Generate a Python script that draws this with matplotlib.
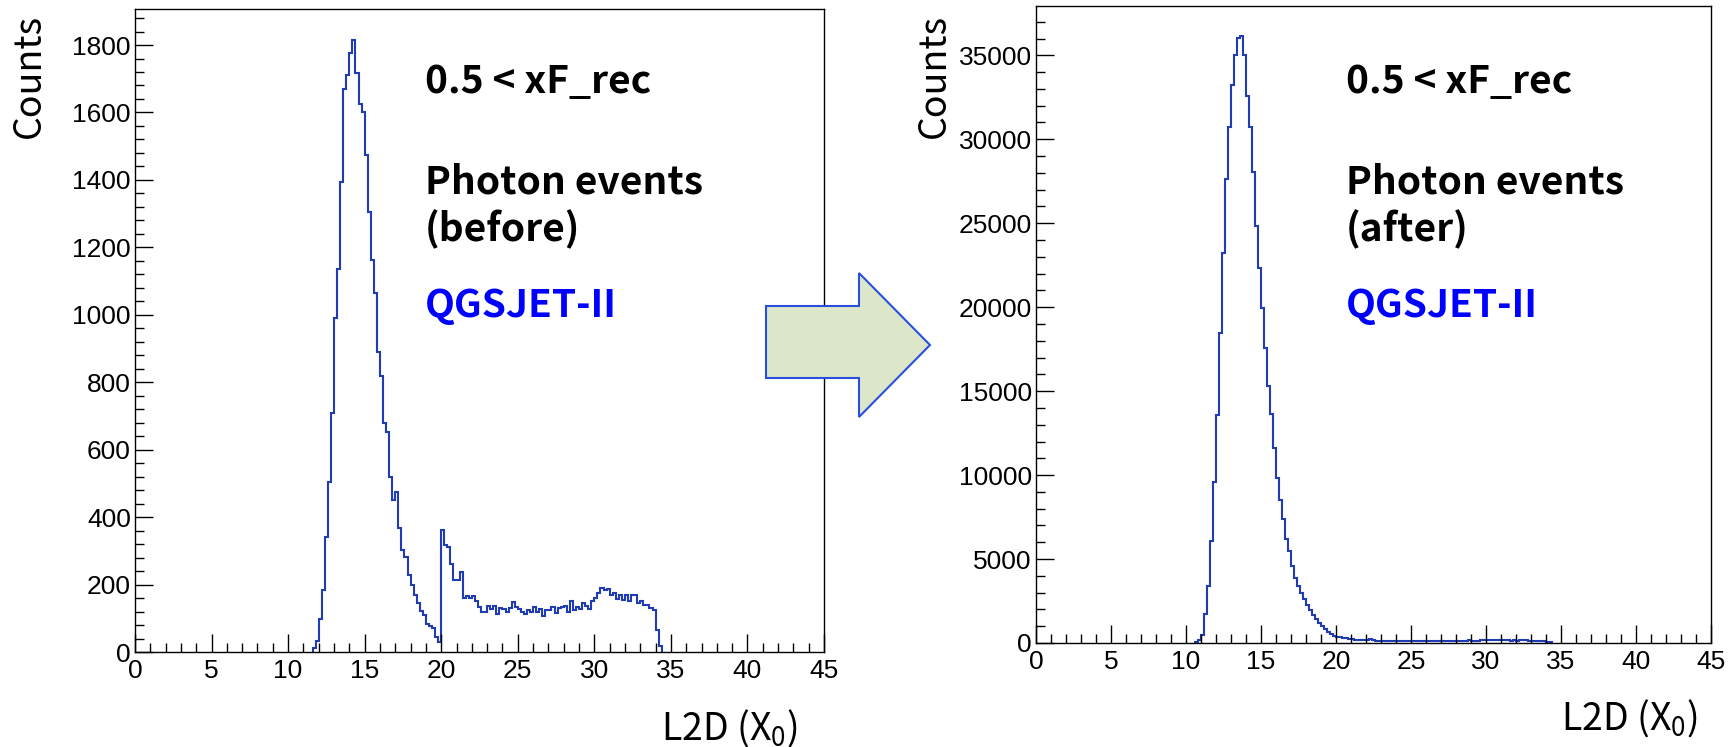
import numpy as np
import matplotlib
matplotlib.use("Agg")
import matplotlib.pyplot as plt
from matplotlib.patches import Polygon
from matplotlib.ticker import MultipleLocator

# --- data (bin width 0.2 X0) ---
bin_width = 0.2

before_start = 11.6
before_counts = [
    12, 34, 98, 184, 340, 505, 708, 991, 1136, 1395,
    1670, 1712, 1776, 1816, 1717, 1626, 1600, 1475, 1306, 1163,
    1064, 889, 817, 680, 651, 518, 451, 473, 367, 303,
    283, 228, 199, 169, 146, 123, 110, 83, 77, 70,
    44, 31, 362, 318, 312, 262, 214, 214, 236, 160,
    166, 160, 166, 150, 134, 120, 120, 136, 128, 136,
    112, 130, 128, 120, 130, 148, 132, 128, 118, 114,
    124, 120, 134, 118, 128, 108, 126, 124, 134, 116,
    130, 132, 136, 118, 152, 125, 132, 128, 146, 136,
    128, 152, 160, 176, 190, 184, 188, 168, 176, 156,
    170, 154, 168, 150, 170, 170, 146, 150, 140, 138,
    130, 125, 65, 18,
]

after_start = 10.6
after_counts = [
    60, 200, 490, 1700, 3400, 6060, 9580, 13550, 18480, 23200,
    27620, 30740, 33240, 35040, 36050, 36130, 35040, 32560, 30720, 28040,
    24840, 22360, 19940, 17540, 15310, 13620, 11640, 9820, 8540, 7400,
    6180, 5460, 4600, 3900, 3400, 3000, 2600, 2250, 1950, 1650,
    1400, 1200, 1020, 830, 680, 540, 430, 380, 330, 290,
    270, 250, 220, 190, 180, 170, 165, 150, 210, 200,
    140, 130, 120, 115, 110, 120, 105, 110, 100, 105,
    110, 95, 100, 105, 100, 95, 105, 100, 110, 100,
    95, 105, 110, 100, 105, 110, 115, 110, 120, 115,
    125, 180, 130, 140, 135, 200, 150, 170, 180, 185,
    180, 175, 180, 170, 165, 120, 175, 110, 160, 150,
    190, 120, 115, 110, 105, 100, 90, 70, 40,
]

x_ticks = [0, 5, 10, 15, 20, 25, 30, 35, 40, 45]
x_title = "L2D (X$_0$)"
y_title = "Counts"
cut_label = "0.5 < xF_rec"
event_label = "Photon events"
stage_labels = ["(before)", "(after)"]
model_label = "QGSJET-II"

W, H = 1733, 747
plt.rcParams['mathtext.fontset'] = 'custom'
plt.rcParams['mathtext.rm'] = 'Noto Sans CJK KR:light'
plt.rcParams['mathtext.default'] = 'rm'

fig = plt.figure(figsize=(W / 100, H / 100), dpi=100)
fig.patch.set_facecolor('white')


def fx(px):
    return px / W


def fy(py):
    return 1 - py / H


hist_color = '#1f3cb4'
tick_font = ['Liberation Sans', 'DejaVu Sans']
label_font = ['Noto Sans CJK KR', 'DejaVu Sans']


def make_panel(rect, start, counts, y_major, y_minor):
    ax = fig.add_axes(rect)
    counts = np.array(counts, dtype=float)
    edges = start + bin_width * np.arange(len(counts) + 1)
    ax.stairs(counts, edges, baseline=0, color=hist_color, lw=1.5)
    ax.set_xlim(0, 45)
    ax.set_ylim(0, counts.max() * 1.05)
    ax.set_xticks(x_ticks)
    ax.xaxis.set_minor_locator(MultipleLocator(1))
    ax.yaxis.set_major_locator(MultipleLocator(y_major))
    ax.yaxis.set_minor_locator(MultipleLocator(y_minor))
    ax.tick_params(which='both', direction='in', top=False, right=False,
                   width=1.0, color='black')
    ax.tick_params(which='major', length=13)
    ax.tick_params(which='minor', length=6.5)
    ax.tick_params(axis='x', pad=5)
    ax.tick_params(axis='y', pad=3)
    for lab in ax.get_xticklabels() + ax.get_yticklabels():
        lab.set_family(tick_font)
        lab.set_fontsize(19)
    for s in ax.spines.values():
        s.set_linewidth(1.0)
        s.set_color('black')
    return ax


ax1 = make_panel([fx(135), fy(652), fx(824) - fx(135), fy(9) - fy(652)],
                 before_start, before_counts, 200, 40)
ax2 = make_panel([fx(1036), fy(643), fx(1711) - fx(1036), fy(6) - fy(643)],
                 after_start, after_counts, 5000, 1000)

# axis titles (light weight, placed like the ROOT canvas)
for cx, lx, by in [(29, 798, 740), (934, 1698, 730)]:
    fig.text(fx(cx), fy(76), y_title, rotation=90, ha='center', va='center',
             family=label_font, fontweight='light', fontsize=27)
    fig.text(fx(lx), fy(by), x_title, ha='right', va='baseline',
             family=label_font, fontweight='light', fontsize=27)

# annotations
for tx, stage in [(425, stage_labels[0]), (1346, stage_labels[1])]:
    fig.text(fx(tx), fy(93), cut_label, ha='left', va='baseline',
             family=label_font, fontweight='bold', fontsize=28)
    fig.text(fx(tx), fy(193), event_label, ha='left', va='baseline',
             family=label_font, fontweight='bold', fontsize=28)
    fig.text(fx(tx), fy(241), stage, ha='left', va='baseline',
             family=label_font, fontweight='bold', fontsize=28)
    fig.text(fx(tx), fy(317), model_label, ha='left', va='baseline',
             family=label_font, fontweight='bold', fontsize=28, color='#0000ff')

# block arrow between the panels
arrow_px = [(766, 306), (859, 306), (859, 273), (930, 345),
            (859, 417), (859, 378), (766, 378)]
arrow = Polygon([(fx(x), fy(y)) for x, y in arrow_px], closed=True,
                transform=fig.transFigure, facecolor='#dce6c8',
                edgecolor='#2a4fe0', lw=1.5, zorder=5)
fig.add_artist(arrow)

fig.savefig("out.png", dpi=100)
